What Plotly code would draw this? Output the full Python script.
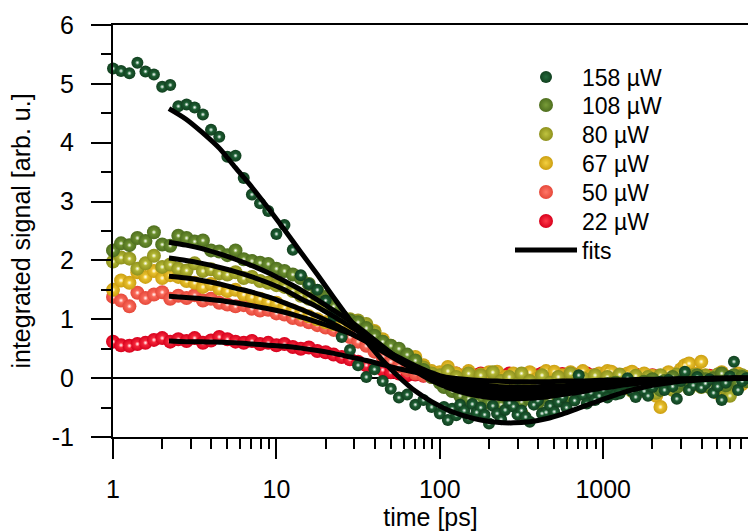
import plotly.graph_objects as go

# ---------------- data ----------------
t_early = [1.00, 1.12, 1.26, 1.41, 1.58, 1.78, 2.00, 2.24, 2.51, 2.82,
           3.16, 3.55, 3.98, 4.47, 5.01, 5.62, 6.31, 7.08, 7.94, 8.91,
           10.0, 11.2, 12.6, 14.1, 15.8, 17.8, 20.0, 22.4, 25.1, 28.2,
           31.6, 35.5, 39.8, 44.7, 50.1, 56.2, 63.1, 70.8, 79.4, 89.1]
t_tail = [100, 106, 112, 119, 126, 133, 141, 150, 158, 168, 178, 188,
          200, 211, 224, 237, 251, 266, 282, 299, 316, 335, 355, 376,
          398, 422, 447, 473, 501, 531, 562, 596, 631, 668, 708, 750,
          794, 841, 891, 944, 1000, 1060, 1120, 1190, 1260, 1330, 1410,
          1500, 1580, 1680, 1780, 1880, 2000, 2110, 2240, 2370, 2510, 2660, 2820, 2990,
          3160, 3350, 3550, 3760, 3980, 4220, 4470, 4730, 5010, 5310, 5620, 5960, 6310, 6680, 7080, 7500]

v158_early = [5.26, 5.22, 5.18, 5.36, 5.21, 5.16, 4.95, 4.98, 4.62, 4.65,
              4.60, 4.48, 4.22, 4.10, 3.76, 3.78, 3.40, 3.12, 2.97, 2.84,
              2.45, 2.60, 2.18, 1.75, 1.60, 1.50, 1.32, 1.05, 0.70, 0.48,
              0.22, 0.02, 0.15, -0.05, -0.18, -0.33, -0.28, -0.45, -0.37, -0.49]
v158_tail = [-0.60, -0.49, -0.71, -0.52, -0.63, -0.45, -0.55, -0.68, -0.44, -0.58, -0.50, -0.62,
             -0.77, -0.47, -0.60, -0.70, -0.54, -0.42, -0.48, -0.62, -0.55, -0.66, -0.74, -0.45,
             -0.38, -0.60, -0.58, -0.47, -0.57, -0.40, -0.32, -0.50, -0.17, -0.38, 0.05, -0.28,
             -0.43, -0.25, -0.37, -0.30, -0.20, -0.33, -0.15, -0.28, -0.26, -0.10, 0.00,
             -0.22, -0.32, -0.12, -0.22, -0.30, -0.15, -0.08, -0.06, -0.20, -0.03, -0.14, -0.35, -0.05,
             0.11, -0.20, -0.12, 0.02, -0.16, -0.09, -0.02, -0.25, -0.14, -0.37, -0.08, 0.03, 0.28, -0.20, -0.05, 0.00]

v108_early = [2.17, 2.29, 2.26, 2.38, 2.33, 2.48, 2.27, 2.25, 2.42, 2.38,
              2.32, 2.34, 2.17, 2.15, 2.09, 2.17, 2.02, 1.99, 1.96, 1.94,
              1.86, 1.82, 1.76, 1.70, 1.60, 1.48, 1.38, 1.22, 1.05, 0.98,
              0.95, 0.85, 0.72, 0.62, 0.55, 0.50, 0.40, 0.30, 0.14, 0.02]
v108_tail = [-0.08, -0.15, -0.10, -0.22, -0.18, -0.30, -0.25, -0.35, -0.28, -0.40, -0.33, -0.25,
             -0.42, -0.30, -0.36, -0.45, -0.28, -0.38, -0.32, -0.22, -0.40, -0.30, -0.35, -0.26,
             -0.42, -0.30, -0.24, -0.36, -0.28, -0.20, -0.33, -0.25, -0.30, -0.18, -0.27, -0.22,
             -0.12, -0.28, -0.20, -0.15, -0.25, -0.10, -0.18, -0.08, -0.22, -0.14, -0.05,
             -0.18, -0.10, -0.22, -0.06, -0.15, -0.02, -0.12, -0.20, -0.05, -0.10, 0.02, -0.15, -0.08,
             0.00, -0.12, -0.05, 0.05, -0.10, -0.02, -0.15, 0.00, -0.06, 0.08, -0.12, -0.02, 0.05, -0.08, 0.02, -0.05]

v80_early = [1.98, 2.05, 2.03, 1.86, 1.95, 2.08, 1.89, 1.93, 1.86, 1.83,
             1.95, 1.82, 1.85, 1.78, 1.76, 1.80, 1.70, 1.72, 1.65, 1.62,
             1.58, 1.55, 1.48, 1.40, 1.35, 1.30, 1.22, 1.12, 1.05, 1.00,
             0.98, 0.92, 0.78, 0.62, 0.50, 0.42, 0.35, 0.25, 0.18, 0.08]
v80_tail = [0.05, -0.05, 0.12, -0.12, 0.02, -0.18, -0.08, 0.08, -0.20, -0.10, 0.05, -0.25,
            -0.12, 0.10, -0.30, -0.05, -0.18, 0.02, -0.28, -0.10, 0.08, -0.22, -0.05, -0.32,
            -0.12, 0.05, -0.20, -0.08, -0.30, 0.02, -0.15, -0.25, 0.08, -0.10, -0.22, 0.00,
            -0.15, -0.28, 0.05, -0.12, -0.20, 0.02, -0.08, -0.25, 0.06, -0.15, -0.05,
            -0.22, 0.04, -0.12, -0.18, 0.02, -0.08, -0.25, 0.05, -0.12, -0.04, -0.20, 0.06, -0.10,
            -0.02, -0.18, 0.05, -0.06, -0.15, 0.04, -0.10, -0.22, 0.06, -0.05, -0.18, -0.30, 0.02, -0.08, 0.05, -0.04]

v67_early = [1.50, 1.66, 1.62, 1.80, 1.72, 1.82, 1.70, 1.75, 1.72, 1.65,
             1.62, 1.55, 1.60, 1.52, 1.48, 1.50, 1.42, 1.38, 1.35, 1.30,
             1.28, 1.20, 1.15, 1.10, 1.05, 1.00, 0.95, 0.92, 0.88, 0.92,
             0.95, 0.90, 0.80, 0.66, 0.55, 0.45, 0.38, 0.36, 0.22, 0.12]
v67_tail = [0.10, 0.02, 0.19, -0.05, 0.08, -0.12, 0.00, 0.12, -0.15, -0.02, 0.06, -0.20,
            0.10, -0.08, 0.11, -0.25, 0.02, -0.12, 0.08, -0.35, -0.60, -0.05, 0.10, -0.18,
            0.00, -0.28, 0.12, -0.08, 0.11, -0.20, 0.05, -0.12, 0.10, -0.30, 0.00, 0.12,
            -0.15, 0.04, -0.25, 0.08, -0.05, 0.12, 0.11, -0.18, 0.02, -0.10, 0.08,
            0.11, -0.20, 0.00, 0.08, -0.12, 0.04, -0.30, -0.49, -0.05, 0.10, -0.15, 0.05, 0.15,
            0.22, 0.25, -0.10, 0.08, 0.28, 0.05, -0.12, 0.02, -0.25, 0.10, -0.05, -0.15, 0.04, 0.08, -0.10, 0.02]

v50_early = [1.38, 1.32, 1.22, 1.45, 1.36, 1.42, 1.46, 1.35, 1.40, 1.36,
             1.41, 1.32, 1.35, 1.28, 1.25, 1.22, 1.24, 1.18, 1.15, 1.16,
             1.10, 1.08, 1.02, 0.99, 0.95, 0.90, 0.86, 0.82, 0.76, 0.70,
             0.62, 0.55, 0.45, 0.36, 0.28, 0.20, 0.14, 0.08, 0.05, 0.02]
v50_tail = [0.02, -0.04, 0.00, -0.08, -0.02, -0.10, -0.05, 0.02, -0.12, -0.06, 0.00, -0.14,
            -0.08, 0.03, -0.16, -0.05, -0.10, 0.02, -0.18, -0.08, 0.00, -0.12, -0.04, -0.15,
            -0.06, 0.03, -0.10, -0.02, -0.14, 0.00, -0.08, -0.12, 0.02, -0.06, -0.10, 0.04,
            -0.08, -0.13, 0.00, -0.05, -0.11, 0.03, -0.04, -0.09, 0.02, -0.07, -0.02,
            -0.10, 0.04, -0.05, -0.08, 0.02, -0.03, -0.09, 0.03, -0.06, -0.01, -0.08, 0.04, -0.03,
            0.00, -0.07, 0.03, -0.02, -0.06, 0.02, -0.04, -0.08, 0.03, -0.02, -0.05, 0.01, -0.03, 0.02, -0.01, 0.00]

v22_early = [0.62, 0.56, 0.55, 0.58, 0.60, 0.65, 0.68, 0.62, 0.66, 0.63,
             0.68, 0.60, 0.64, 0.70, 0.66, 0.62, 0.60, 0.63, 0.58, 0.60,
             0.56, 0.58, 0.53, 0.50, 0.52, 0.46, 0.44, 0.40, 0.36, 0.32,
             0.28, 0.22, 0.18, 0.14, 0.10, 0.08, 0.05, 0.06, 0.04, 0.03]
v22_tail = [0.03, 0.06, 0.01, 0.05, 0.08, 0.02, 0.04, 0.07, 0.00, 0.05, 0.08, 0.03,
            0.06, 0.01, 0.07, 0.04, 0.02, 0.08, 0.05, 0.00, 0.06, 0.03, 0.07, 0.02,
            0.05, 0.08, 0.01, 0.04, 0.06, 0.02, 0.07, 0.03, 0.05, 0.00, 0.06, 0.04,
            0.08, 0.02, 0.05, 0.03, 0.07, 0.01, 0.04, 0.06, 0.02, 0.05, 0.00,
            0.03, 0.06, 0.02, 0.04, 0.01, 0.05, 0.03, 0.00, 0.04, 0.02, 0.05, 0.01, 0.03,
            0.00, 0.04, 0.02, -0.01, 0.03, 0.01, 0.04, 0.00, 0.02, -0.02, 0.03, 0.01, -0.01, 0.02, 0.00, 0.01]

# fit curves
t_fit = [2.2, 2.8, 3.5, 4.5, 5.6, 7.1, 8.9, 11.2, 14.1, 17.8, 22.4, 28.2, 35.5, 44.7, 56.2, 70.8,
         89.1, 112, 141, 178, 224, 282, 355, 447, 562, 708, 891, 1120, 1410, 1780, 2240, 2820,
         3550, 4470, 5620, 7700]
f158 = [4.58, 4.40, 4.18, 3.90, 3.58, 3.24, 2.89, 2.52, 2.14, 1.76, 1.37, 0.99, 0.63, 0.30, 0.02, -0.22,
        -0.40, -0.54, -0.64, -0.71, -0.75, -0.76, -0.74, -0.69, -0.61, -0.51, -0.41, -0.31, -0.22, -0.15,
        -0.10, -0.06, -0.04, -0.02, -0.01, 0.00]
f108 = [2.31, 2.26, 2.20, 2.11, 2.02, 1.91, 1.79, 1.65, 1.50, 1.33, 1.15, 0.97, 0.76, 0.54, 0.32, 0.12,
        -0.04, -0.16, -0.25, -0.31, -0.34, -0.35, -0.34, -0.32, -0.28, -0.24, -0.19, -0.15, -0.11, -0.08,
        -0.05, -0.03, -0.02, -0.01, -0.005, 0.00]
f80 = [2.04, 2.00, 1.95, 1.88, 1.81, 1.72, 1.62, 1.50, 1.35, 1.21, 1.05, 0.88, 0.71, 0.52, 0.33, 0.15,
       0.00, -0.11, -0.19, -0.25, -0.28, -0.29, -0.28, -0.27, -0.24, -0.20, -0.16, -0.13, -0.09, -0.07,
       -0.04, -0.03, -0.02, -0.01, 0.00, 0.00]
f67 = [1.73, 1.70, 1.66, 1.60, 1.53, 1.46, 1.38, 1.28, 1.17, 1.05, 0.92, 0.77, 0.62, 0.45, 0.29, 0.14,
       0.02, -0.07, -0.14, -0.18, -0.21, -0.22, -0.22, -0.21, -0.19, -0.16, -0.13, -0.10, -0.08, -0.06,
       -0.04, -0.03, -0.02, -0.01, 0.00, 0.00]
f50 = [1.39, 1.37, 1.35, 1.32, 1.28, 1.23, 1.18, 1.12, 1.04, 0.95, 0.86, 0.76, 0.63, 0.49, 0.35, 0.21,
       0.09, 0.00, -0.07, -0.11, -0.14, -0.15, -0.15, -0.14, -0.13, -0.11, -0.09, -0.07, -0.05, -0.04,
       -0.03, -0.02, -0.01, -0.01, 0.00, 0.00]
f22 = [0.63, 0.62, 0.62, 0.61, 0.60, 0.58, 0.56, 0.54, 0.51, 0.47, 0.42, 0.36, 0.30, 0.23, 0.16, 0.10,
       0.05, 0.01, -0.02, -0.04, -0.05, -0.06, -0.06, -0.06, -0.05, -0.05, -0.04, -0.03, -0.03, -0.02,
       -0.02, -0.01, -0.01, 0.00, 0.00, 0.00]

x_major = [1, 10, 100, 1000]
x_major_text = ["1", "10", "100", "1000"]
x_minor = [2, 3, 4, 5, 6, 7, 8, 9, 20, 30, 40, 50, 60, 70, 80, 90,
           200, 300, 400, 500, 600, 700, 800, 900, 2000, 3000, 4000, 5000, 6000, 7000]
y_major = [-1, 0, 1, 2, 3, 4, 5, 6]
y_major_text = ["-1", "0", "1", "2", "3", "4", "5", "6"]
y_minor = [-0.5, 0.5, 1.5, 2.5, 3.5, 4.5, 5.5]

# ---------------- figure ----------------
t_all = t_early + t_tail
# (label, values, centre colour, edge colour, size, legend id)
series = [
    ("22 µW", v22_early + v22_tail, "#ff3a4a", "#d8001c", 14, "legend6"),
    ("50 µW", v50_early + v50_tail, "#ff7868", "#e6483a", 14, "legend5"),
    ("67 µW", v67_early + v67_tail, "#f4d040", "#cc9f10", 14, "legend4"),
    ("80 µW", v80_early + v80_tail, "#c0c440", "#8e911c", 14, "legend3"),
    ("108 µW", v108_early + v108_tail, "#789c38", "#4e6e1e", 14, "legend2"),
    ("158 µW", v158_early + v158_tail, "#246a3c", "#11401f", 12, "legend"),
]

fig = go.Figure()
for name, vals, col, edge, size, leg in series:
    fig.add_trace(go.Scatter(
        x=t_all, y=vals, mode="markers", name=name, legend=leg,
        marker=dict(color=edge, size=size, line=dict(width=0),
                    gradient=dict(type="radial", color=col)),
        cliponaxis=False))
    fig.add_trace(go.Scatter(
        x=t_all, y=vals, mode="markers", showlegend=False, hoverinfo="skip",
        marker=dict(color=col, size=4.5, line=dict(width=0),
                    gradient=dict(type="radial", color="#ffffff")),
        cliponaxis=False))

for i, f in enumerate([f158, f108, f80, f67, f50, f22]):
    fig.add_trace(go.Scatter(
        x=t_fit, y=f, mode="lines", name="fits", legend="legend7",
        showlegend=(i == 0),
        line=dict(color="black", width=5, shape="spline", smoothing=0.8)))

axis_font = dict(family="Arial, Liberation Sans, sans-serif", size=25, color="black")
leg_font = dict(family="Arial, Liberation Sans, sans-serif", size=23, color="black")

legend_rows = {"legend": 77, "legend2": 105, "legend3": 134, "legend4": 163,
               "legend5": 192, "legend6": 221, "legend7": 250}
legend_layout = {}
for key, row in legend_rows.items():
    legend_layout[key] = dict(x=(510 - 113) / 635, y=1 - (row - 25) / 412,
                              xanchor="left", yanchor="middle",
                              bgcolor="rgba(0,0,0,0)", borderwidth=0,
                              font=leg_font, itemwidth=62)

fig.update_layout(
    width=748, height=532,
    margin=dict(l=113, r=0, t=25, b=95),
    plot_bgcolor="white", paper_bgcolor="white",
    font=axis_font,
    showlegend=True,
    xaxis=dict(
        type="log", range=[0, 3.886],
        tickmode="array", tickvals=x_major, ticktext=x_major_text,
        ticks="outside", ticklen=20, tickwidth=2, tickcolor="black",
        ticklabelstandoff=9,
        showline=True, linecolor="black", linewidth=2, mirror=True,
        showgrid=False, zeroline=False,
        minor=dict(tickmode="array", tickvals=x_minor, ticks="outside", ticklen=10,
                   tickwidth=2, tickcolor="black", showgrid=False),
        title=dict(text="time [ps]", standoff=2, font=axis_font),
        tickfont=axis_font,
    ),
    yaxis=dict(
        range=[-1, 6],
        tickmode="array", tickvals=y_major, ticktext=y_major_text,
        ticks="outside", ticklen=20, tickwidth=2, tickcolor="black",
        ticklabelstandoff=12,
        showline=True, linecolor="black", linewidth=2,
        showgrid=False,
        zeroline=True, zerolinecolor="black", zerolinewidth=2,
        minor=dict(tickmode="array", tickvals=y_minor, ticks="outside", ticklen=10,
                   tickwidth=2, tickcolor="black", showgrid=False),
        title=dict(text="integrated signal [arb. u.]", standoff=14, font=axis_font),
        tickfont=axis_font,
    ),
    **legend_layout,
)

fig.write_html("out.html")
